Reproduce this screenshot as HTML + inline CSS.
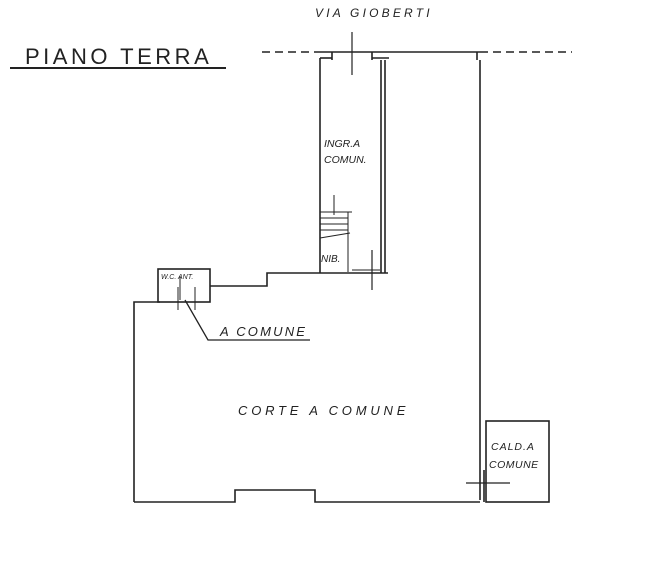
<!DOCTYPE html>
<html><head><meta charset="utf-8"><style>
html,body{margin:0;padding:0;background:#fff;}
svg{display:block;}
text{font-family:"Liberation Sans",sans-serif;font-style:italic;fill:#222;}
</style></head><body>
<svg width="647" height="568" viewBox="0 0 647 568" xmlns="http://www.w3.org/2000/svg">
<g stroke="#222" stroke-width="1.6" fill="none">
<line x1="262" y1="52" x2="318" y2="52" stroke-dasharray="8,5"/>
<line x1="318" y1="52" x2="480" y2="52"/>
<line x1="480" y1="52" x2="572" y2="52" stroke-dasharray="8,5"/>
<line x1="352" y1="32" x2="352" y2="75" stroke-width="1.2"/>
<line x1="320" y1="58" x2="320" y2="273"/>
<line x1="320" y1="58" x2="332" y2="58"/>
<line x1="332" y1="52" x2="332" y2="60"/>
<line x1="372" y1="52" x2="372" y2="60"/>
<line x1="372" y1="58" x2="389" y2="58"/>
<line x1="381" y1="60" x2="381" y2="273"/>
<line x1="385" y1="60" x2="385" y2="273"/>
<line x1="320" y1="273" x2="388" y2="273"/>
<line x1="372" y1="250" x2="372" y2="290" stroke-width="1.2"/>
<line x1="352" y1="270" x2="380" y2="270" stroke-width="1"/>
<line x1="334" y1="195" x2="334" y2="215" stroke-width="1"/>
<line x1="320" y1="212" x2="352" y2="212" stroke-width="1"/>
<line x1="320" y1="218" x2="348" y2="218" stroke-width="1"/>
<line x1="320" y1="224" x2="348" y2="224" stroke-width="1"/>
<line x1="320" y1="230" x2="348" y2="230" stroke-width="1"/>
<line x1="320" y1="238" x2="350" y2="233" stroke-width="1"/>
<line x1="348" y1="212" x2="348" y2="272" stroke-width="1"/>
<line x1="477" y1="52" x2="477" y2="60"/>
<line x1="480" y1="60" x2="480" y2="500"/>
<line x1="484" y1="470" x2="484" y2="502"/>
<line x1="466" y1="483" x2="510" y2="483" stroke-width="1.2"/>
<polyline points="134,502 134,302 160,302"/>
<rect x="158" y="269" width="52" height="33"/>
<polyline points="210,286 267,286 267,273 320,273"/>
<polyline points="134,502 235,502 235,490 315,490 315,502 480,502"/>
<line x1="178" y1="287" x2="178" y2="310" stroke-width="1"/>
<line x1="195" y1="287" x2="195" y2="310" stroke-width="1"/>
<line x1="180" y1="276" x2="180" y2="300" stroke-width="1"/>
<polyline points="185,300 208,340 310,340" stroke-width="1.3"/>
<rect x="486" y="421" width="63" height="81"/>
<line x1="10" y1="68" x2="226" y2="68" stroke-width="2"/>
</g>
<text x="315" y="17" font-size="12" letter-spacing="3.2">VIA GIOBERTI</text>
<text x="25" y="64" font-size="22" letter-spacing="3.5" style="font-style:normal">PIANO TERRA</text>
<text x="324" y="147" font-size="10.5">INGR.A</text>
<text x="324" y="163" font-size="10.5">COMUN.</text>
<text x="321" y="262" font-size="10">NIB.</text>
<text x="161" y="279" font-size="7">W.C. ANT.</text>
<text x="220" y="336" font-size="13" letter-spacing="2.2">A COMUNE</text>
<text x="238" y="415" font-size="13" letter-spacing="3.8">CORTE A COMUNE</text>
<text x="491" y="450" font-size="10.5" letter-spacing="1">CALD.A</text>
<text x="489" y="468" font-size="10.5" letter-spacing="0.5">COMUNE</text>
</svg>
</body></html>
